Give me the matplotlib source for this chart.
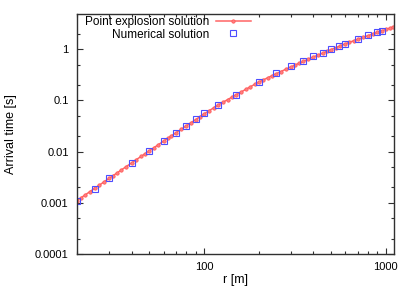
import matplotlib
matplotlib.use("Agg")
import matplotlib.pyplot as plt
from matplotlib.ticker import LogLocator, FuncFormatter, NullFormatter

# point explosion solution
r_exp = [20, 21, 22, 23.5, 25, 26.5, 28, 30, 31.5, 33, 35, 37, 40, 42, 45, 47.5,
         50, 53, 56, 60, 63, 66, 70, 75, 80, 85, 90, 95, 100, 106, 113, 120, 127,
         135, 142, 150, 160, 170, 180, 190, 200, 212, 225, 237, 250, 265, 282,
         300, 315, 335, 350, 375, 400, 425, 450, 475, 500, 530, 560, 600, 630,
         665, 700, 750, 800, 850, 900, 950, 1000, 1050, 1100]
t_exp = [0.001109, 0.001250, 0.001400, 0.001645, 0.001914, 0.002208, 0.002526,
         0.002992, 0.003373, 0.003779, 0.004365, 0.0050, 0.006053, 0.00681,
         0.008054, 0.00918, 0.01040, 0.01195, 0.01365, 0.01614, 0.01813,
         0.02028, 0.02333, 0.02748, 0.03199, 0.03695, 0.04236, 0.04825, 0.05458,
         0.06222, 0.07182, 0.08222, 0.0921, 0.1042, 0.1154, 0.1288, 0.1466,
         0.1656, 0.1857, 0.2068, 0.2291, 0.2530, 0.2800, 0.3059, 0.3350, 0.3685,
         0.4082, 0.4519, 0.4886, 0.5390, 0.5781, 0.6435, 0.7112, 0.7750, 0.8414,
         0.9140, 0.9886, 1.0758, 1.1641, 1.2823, 1.3664, 1.4660, 1.5668, 1.7096,
         1.8535, 2.0015, 2.1528, 2.2972, 2.4434, 2.5882, 2.7353]

# numerical solution
r_num = [20, 25, 30, 40, 50, 60, 70, 80, 90, 100, 120, 150, 200, 250, 300, 350,
         400, 450, 500, 550, 600, 700, 800, 900, 950]
t_num = [0.0011, 0.0019, 0.0030, 0.0061, 0.0105, 0.0164, 0.0236, 0.0323, 0.0444,
         0.0560, 0.082, 0.129, 0.233, 0.349, 0.471, 0.600, 0.729, 0.846, 1.01,
         1.145, 1.29, 1.57, 1.88, 2.18, 2.33]

plt.rcParams['font.family'] = ['Liberation Sans', 'DejaVu Sans']
plt.rcParams['font.size'] = 8

fig = plt.figure(figsize=(4.15, 2.91), dpi=100)
ax = fig.add_axes([77 / 415, 37 / 291, 317 / 415, 240 / 291])

ax.plot(r_exp, t_exp, color='#ff6464', lw=1.1, marker='o', ms=2.4,
        mec='#ff5a5a', mfc='#ff8080', mew=0.6, label='Point explosion solution')
ax.plot(r_num, t_num, ls='none', marker='s', ms=4.3, mfc='none',
        mec='#4d4dff', mew=0.8, label='Numerical solution')

ax.set_xscale('log')
ax.set_yscale('log')
ax.set_xlim(20, 1110)
ax.set_ylim(1e-4, 4.9)

ax.yaxis.set_major_locator(LogLocator(base=10, numticks=10))
ax.yaxis.set_minor_locator(LogLocator(base=10, subs=(2, 5), numticks=20))
ax.xaxis.set_minor_locator(LogLocator(base=10, subs=range(2, 10), numticks=20))
fmt = FuncFormatter(lambda v, p: '%g' % v)
ax.xaxis.set_major_formatter(fmt)
ax.yaxis.set_major_formatter(fmt)
ax.xaxis.set_minor_formatter(NullFormatter())
ax.yaxis.set_minor_formatter(NullFormatter())

ax.tick_params(which='both', direction='in', top=True, right=True,
               color='#303030', width=0.8)
ax.tick_params(which='major', length=4, pad=6, labelsize=8)
ax.tick_params(which='minor', length=2)
for s in ax.spines.values():
    s.set_color('#303030')
    s.set_linewidth(1.0)

ax.set_xlabel('r [m]', labelpad=1, fontsize=9)
ax.set_ylabel('Arrival time [s]', labelpad=13, fontsize=9)

leg = ax.legend(loc='upper right', bbox_to_anchor=(251 / 415, 1 - 16 / 291),
                bbox_transform=fig.transFigure, frameon=False, markerfirst=False,
                handlelength=3.0, handletextpad=0.5, labelspacing=0.05,
                borderpad=0, borderaxespad=0, fontsize=8.5)

fig.savefig('out.png', dpi=100)
